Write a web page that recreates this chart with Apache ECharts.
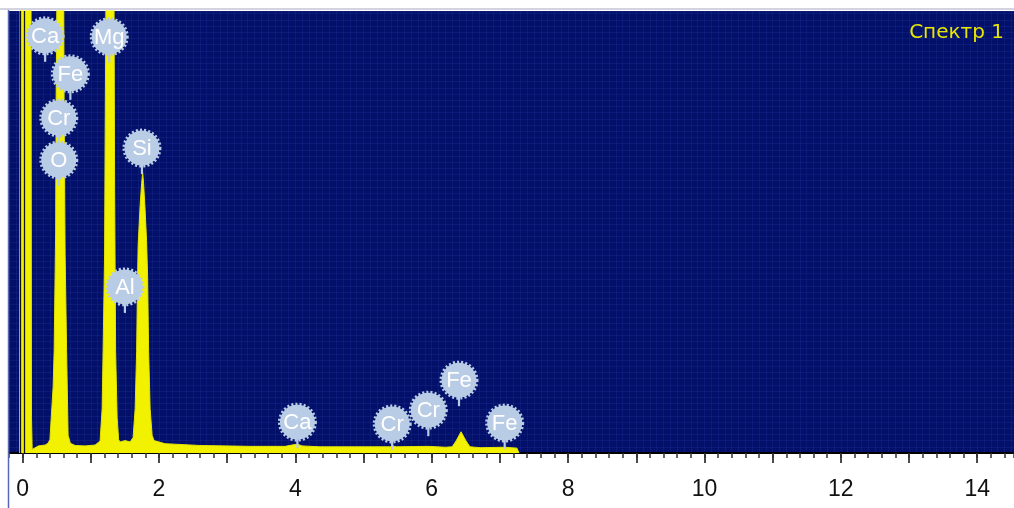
<!DOCTYPE html>
<html>
<head>
<meta charset="utf-8">
<script src="https://cdn.jsdelivr.net/npm/echarts@6/dist/echarts.min.js"></script>
<style>
html,body{margin:0;padding:0;background:#fff;}
#chart{width:1014px;height:508px;}
</style>
</head>
<body>
<div id="chart"></div>
<script>
// Spectrum (energy in keV, counts as % of the plotted full scale)
const energy = [-0.045, -0.035, 0.12, 0.13, 0.14, 0.154, 0.23, 0.33, 0.37, 0.40,
  0.447, 0.462, 0.484, 0.491, 0.506, 0.513, 0.587, 0.601, 0.608, 0.623, 0.645, 0.667, 0.70, 0.726, 0.77, 0.916, 1.063, 1.136,
  1.166, 1.18, 1.202, 1.21, 1.224, 1.232, 1.334, 1.341, 1.349, 1.364, 1.386, 1.408, 1.43, 1.503, 1.576, 1.62,
  1.65, 1.672, 1.686, 1.694, 1.723, 1.745, 1.76, 1.774, 1.796, 1.818, 1.833, 1.848, 1.87, 1.899, 1.928,
  2.09, 2.60, 3.34, 3.85, 3.95, 4.03, 4.10, 4.36, 5.39, 5.43, 5.48, 5.95, 6.2, 6.30, 6.36, 6.43, 6.50, 6.56, 6.71, 7.07, 7.25, 7.28];
const counts = [0, 150, 150, 8, 0.8, 0.8, 1.6, 1.8, 2.2, 3,
  15, 23, 50, 80, 110, 150, 150, 110, 80, 45, 23, 4, 2.2, 1.9, 1.7, 1.6, 1.8, 2.7,
  10, 23, 45, 70, 110, 150, 150, 100, 60, 23, 8, 3, 2.5, 2.8, 2.5, 3.5,
  10, 23, 40, 47, 56, 61, 63.5, 61, 55, 48, 40, 23, 10, 4, 2.8,
  2.1, 1.7, 1.5, 1.5, 1.8, 2.0, 1.6, 1.4, 1.4, 1.6, 1.4, 1.5, 1.3, 1.4, 2.8, 4.8, 2.8, 1.4, 1.2, 1.3, 1.1, 0];

// Element markers: name, energy (keV), marker foot (counts)
const markerNames = ['Ca', 'Mg', 'Fe', 'Cr', 'O', 'Si', 'Al', 'Ca', 'Cr', 'Cr', 'Fe', 'Fe'];
const markerEnergy = [0.33, 1.27, 0.70, 0.53, 0.53, 1.75, 1.50, 4.03, 5.42, 5.95, 6.40, 7.07];
const markerCounts = [88.5, 88.3, 79.9, 69.9, 60.4, 63.1, 31.7, 1.1, 0.7, 3.8, 10.6, 0.9];

// Axis ticks / labels
const majorTicks = [0,1,2,3,4,5,6,7,8,9,10,11,12,13,14];
const tickLabels = [0,2,4,6,8,10,12,14];
const spectrumTitle = 'Спектр 1';

const chart = echarts.init(document.getElementById('chart'), null, {renderer: 'canvas'});
const badgeColor = '#b9cce6';

const xBase = {type: 'value', min: -0.2, max: 14.54, position: 'bottom'};

const option = {
  backgroundColor: '#ffffff',
  animation: false,
  title: {
    text: spectrumTitle, right: 5, top: 18,
    textStyle: {color: '#e6e600', fontSize: 20, fontWeight: 'normal', fontFamily: 'DejaVu Sans'}
  },
  grid: {left: 9, right: 0, top: 11, bottom: 55, show: true, backgroundColor: '#02106a', borderWidth: 0},
  xAxis: [
    Object.assign({}, xBase, {
      interval: 0.2,
      axisLine: {show: true, lineStyle: {color: '#000', width: 2}},
      axisTick: {show: true, customValues: majorTicks, length: 10, lineStyle: {color: '#111', width: 1.5}},
      axisLabel: {show: true, customValues: tickLabels, margin: 25, color: '#111', fontSize: 23,
        fontFamily: '"Liberation Sans Narrow", "Liberation Sans", Arial'},
      splitLine: {show: false}
    }),
    Object.assign({}, xBase, {
      interval: 0.2,
      axisLine: {show: false},
      axisTick: {show: true, length: 5, lineStyle: {color: '#333', width: 1.5}},
      axisLabel: {show: false},
      splitLine: {show: false}
    }),
    Object.assign({}, xBase, {
      interval: 0.1,
      axisLine: {show: false},
      axisTick: {show: false},
      axisLabel: {show: false},
      splitLine: {show: true, lineStyle: {color: 'rgba(70,100,200,0.13)', width: 1}}
    })
  ],
  yAxis: {
    type: 'value', min: 0, max: 100, interval: 1.4,
    axisLine: {show: false}, axisTick: {show: false}, axisLabel: {show: false},
    splitLine: {show: true, lineStyle: {color: 'rgba(70,100,200,0.13)', width: 1}}
  },
  graphic: [
    {type: 'line', shape: {x1: 0, y1: 9, x2: 1014, y2: 9}, style: {stroke: '#c4c6d4', lineWidth: 1.5}, z: 100},
    {type: 'line', shape: {x1: 8.5, y1: 10, x2: 8.5, y2: 508}, style: {stroke: '#5a68b4', lineWidth: 1.5}, z: 100}
  ],
  series: [
    {
      type: 'line',
      xAxisIndex: 0,
      data: energy.map((e, i) => [e, counts[i]]),
      showSymbol: false,
      clip: true,
      lineStyle: {color: '#e4e400', width: 1},
      areaStyle: {color: '#f2f200', opacity: 1},
      markLine: {
        silent: true, symbol: 'none', label: {show: false},
        lineStyle: {color: '#141414', width: 1.3, type: 'solid'},
        data: [{xAxis: -0.035}, {xAxis: 0.025}]
      },
      z: 2
    },
    {
      type: 'custom',
      xAxisIndex: 0,
      data: markerEnergy.map((e, i) => [e, markerCounts[i]]),
      clip: false,
      z: 5,
      renderItem: function (params, api) {
        const p = api.coord([api.value(0), api.value(1)]);
        const cy = p[1] - 26;
        return {
          type: 'group',
          children: [
            {type: 'line', shape: {x1: p[0], y1: p[1], x2: p[0], y2: cy + 10},
              style: {stroke: badgeColor, lineWidth: 2.2}},
            {type: 'circle', shape: {cx: p[0], cy: cy, r: 17.5},
              style: {fill: badgeColor, stroke: badgeColor, lineWidth: 4, lineDash: [2, 2]}},
            {type: 'text', style: {text: markerNames[params.dataIndex], x: p[0], y: cy + 1,
              align: 'center', verticalAlign: 'middle', fill: '#ffffff',
              fontSize: 22, fontFamily: '"Liberation Sans", Arial'}}
          ]
        };
      }
    }
  ]
};
chart.setOption(option);
</script>
</body>
</html>
